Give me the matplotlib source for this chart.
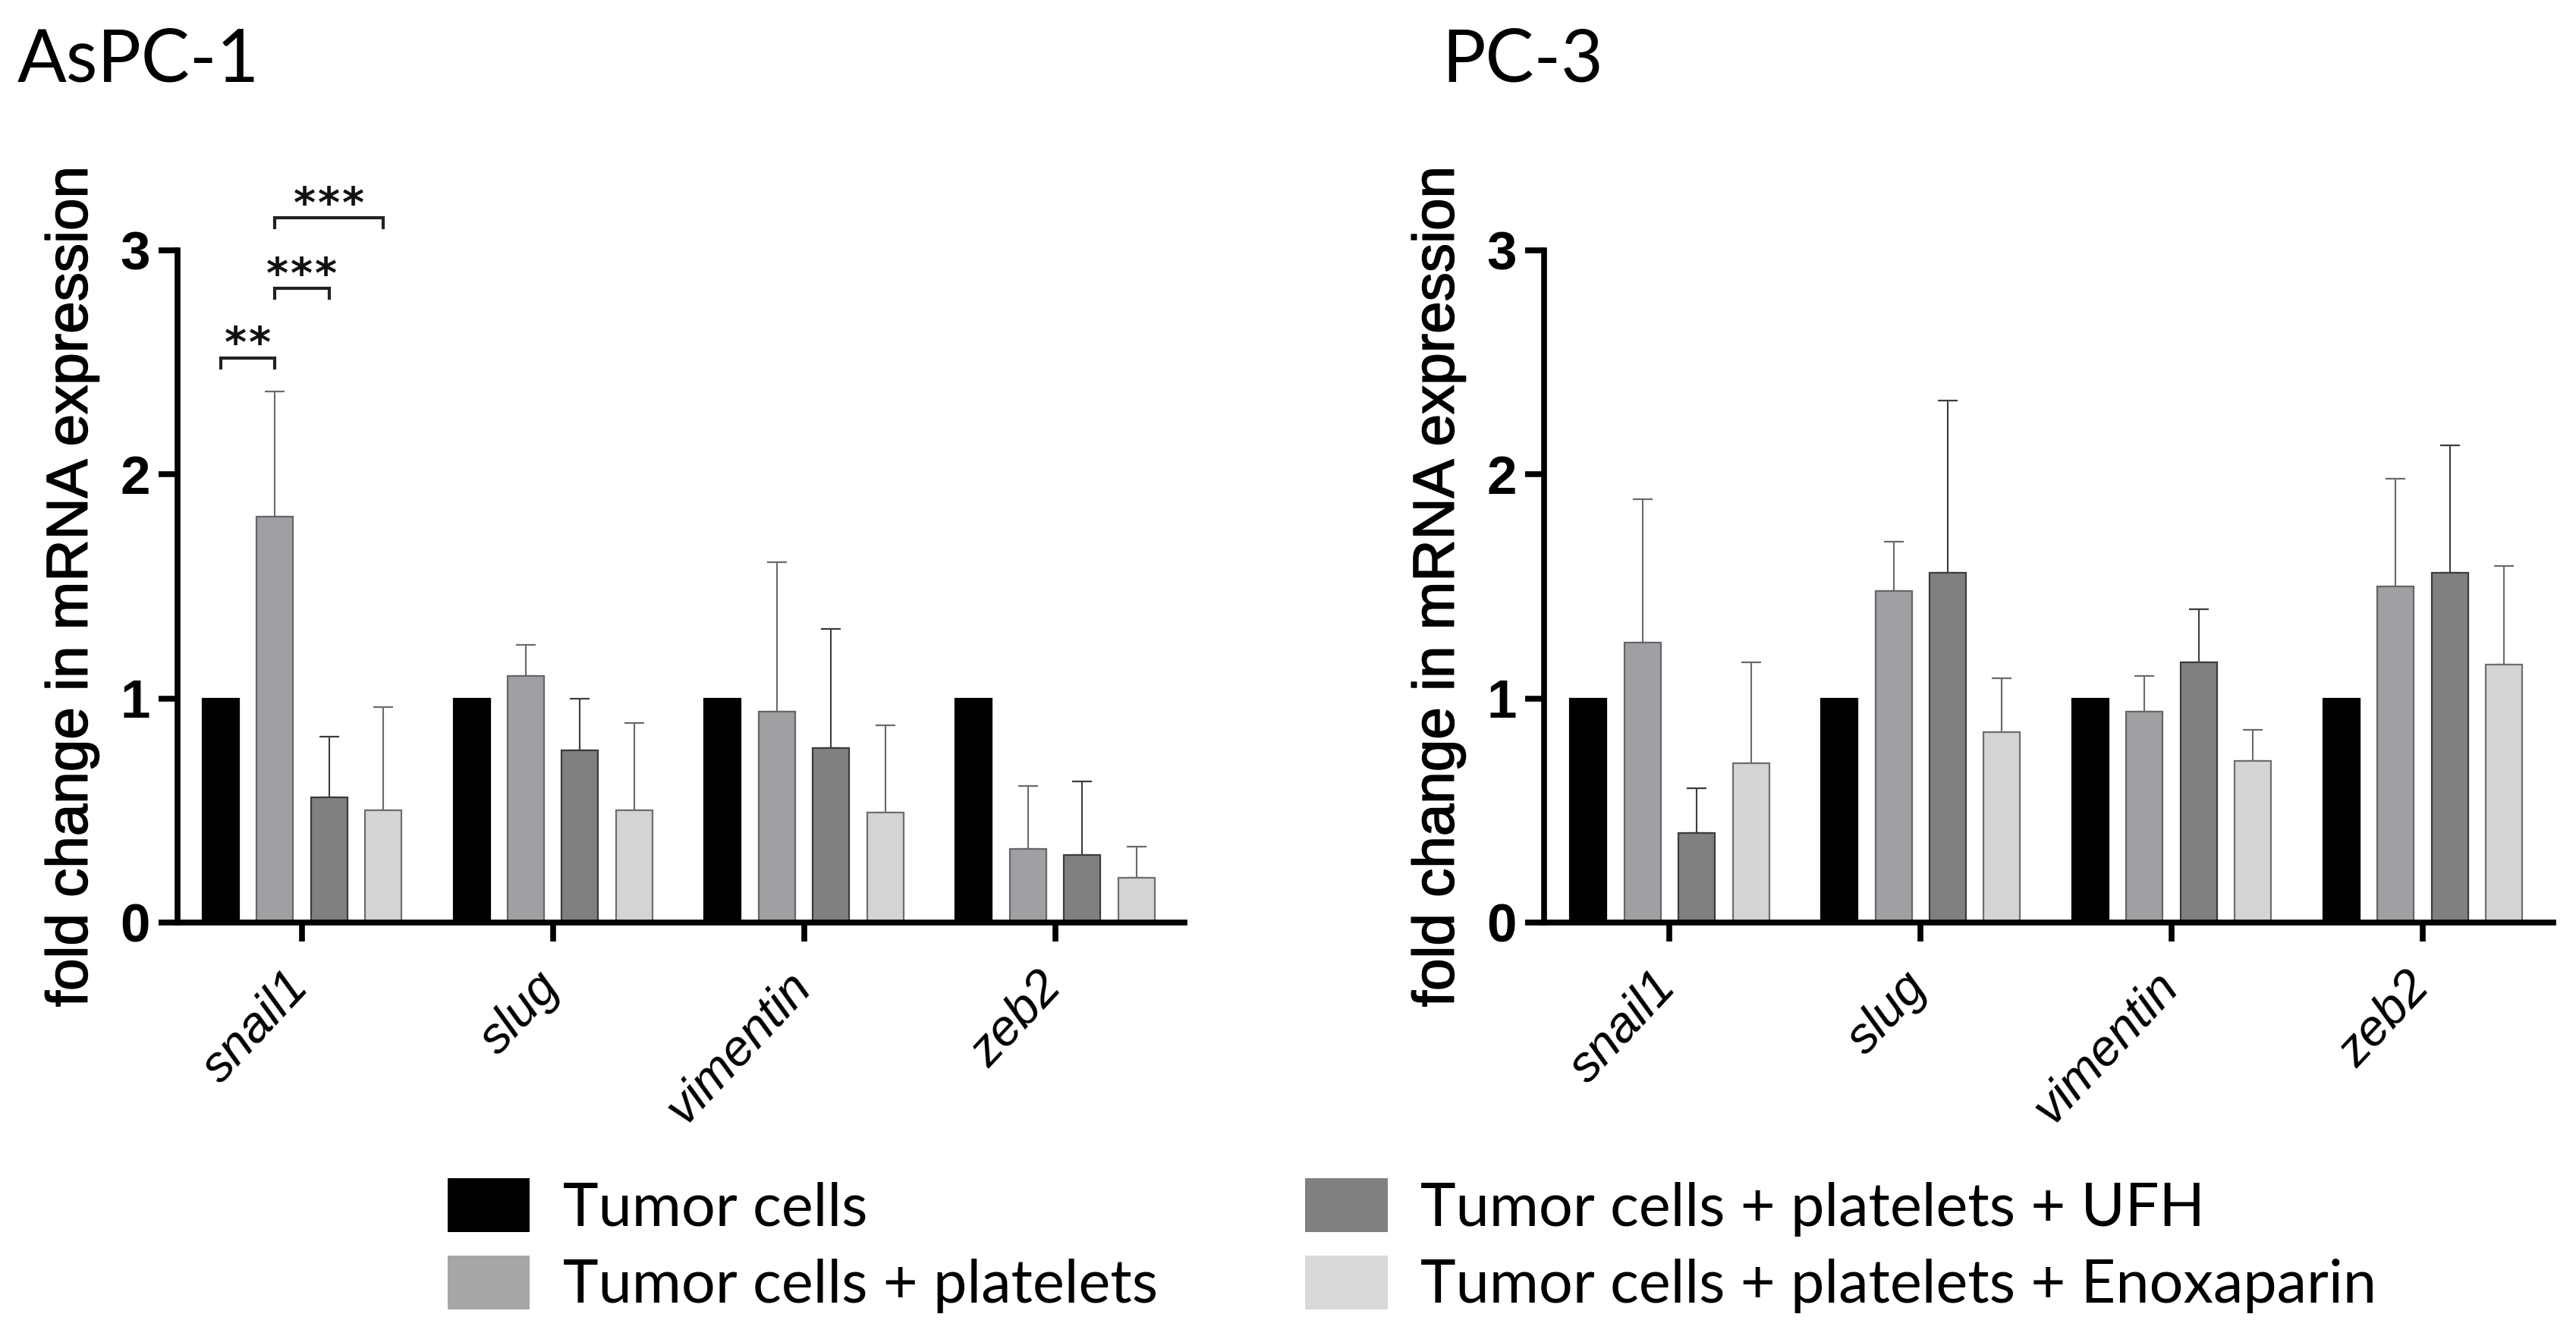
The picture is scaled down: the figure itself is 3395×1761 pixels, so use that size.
import matplotlib
matplotlib.use("Agg")
import matplotlib.pyplot as plt
import matplotlib.transforms as mtransforms
import matplotlib.patheffects as pe
from matplotlib.patches import Patch
import numpy as np

# ---------------- data ----------------
genes = ["snail1", "slug", "vimentin", "zeb2"]
series_labels = ["Tumor cells", "Tumor cells + platelets",
                 "Tumor cells + platelets + UFH", "Tumor cells + platelets + Enoxaparin"]

aspc_tumor = [1.0, 1.0, 1.0, 1.0]
aspc_plt = [1.81, 1.10, 0.94, 0.33]
aspc_plt_sd = [0.56, 0.14, 0.67, 0.28]
aspc_ufh = [0.56, 0.77, 0.78, 0.30]
aspc_ufh_sd = [0.27, 0.23, 0.53, 0.33]
aspc_enox = [0.50, 0.50, 0.49, 0.20]
aspc_enox_sd = [0.46, 0.39, 0.39, 0.14]

pc3_tumor = [1.0, 1.0, 1.0, 1.0]
pc3_plt = [1.25, 1.48, 0.94, 1.50]
pc3_plt_sd = [0.64, 0.22, 0.16, 0.48]
pc3_ufh = [0.40, 1.56, 1.16, 1.56]
pc3_ufh_sd = [0.20, 0.77, 0.24, 0.57]
pc3_enox = [0.71, 0.85, 0.72, 1.15]
pc3_enox_sd = [0.45, 0.24, 0.14, 0.44]

# significance (gene index, series a, series b, level, number of stars)
aspc_sig = [(0, 0, 1, 2.52, 2), (0, 1, 2, 2.83, 3), (0, 1, 3, 3.145, 3)]

ytick_vals = [0, 1, 2, 3]
ytick_labels = ["0", "1", "2", "3"]

# ---------------- style ----------------
fills = ["#000000", "#A0A0A4", "#808080", "#D4D4D4"]
edges = ["#000000", "#666666", "#3C3C3C", "#6E6E6E"]
err_cols = ["#000000", "#6A6A6A", "#3C3C3C", "#6A6A6A"]
legend_fills = ["#000000", "#A6A6A6", "#808080", "#D9D9D9"]

ARIAL = "Liberation Sans"
CALIBRI = "Lato"

W, H = 3395, 1761
fig = plt.figure(figsize=(W / 100, H / 100), dpi=100)

bar_w = 0.145
step = 0.216
offsets = [(-1.5 + i) * step for i in range(4)]

label_shift = mtransforms.ScaledTranslation(-24 / 100, -54 / 100, fig.dpi_scale_trans)


def panel(rect, xlim, means, sds, title, title_x, sig=None):
    ax = fig.add_axes(rect)
    x = np.arange(len(genes))
    for i, (m, s) in enumerate(zip(means, sds)):
        xs = x + offsets[i]
        ax.bar(xs, m, width=bar_w, color=fills[i], edgecolor=edges[i],
               linewidth=1.6, zorder=2)
        if s is not None:
            ax.errorbar(xs, m, yerr=[np.zeros(len(s)), s], fmt="none",
                        ecolor=err_cols[i], elinewidth=1.5, capsize=9.5,
                        capthick=1.6, zorder=1)
    ax.set_xlim(*xlim)
    ax.set_ylim(0, 3)
    ax.set_yticks(ytick_vals)
    ax.set_yticklabels(ytick_labels, fontfamily=ARIAL, fontweight="bold",
                       fontsize=51)
    ax.set_xticks(x)
    ax.set_xticklabels([])
    trans = ax.get_xaxis_transform() + label_shift
    for xi, g in zip(x, genes):
        ax.text(xi, 0, g, transform=trans, fontfamily=ARIAL,
                fontstyle="italic", fontsize=48, rotation=47, ha="right",
                va="top", rotation_mode="anchor", clip_on=False)
    for sp in ["top", "right"]:
        ax.spines[sp].set_visible(False)
    for sp in ["left", "bottom"]:
        ax.spines[sp].set_linewidth(5.5)
    ax.tick_params(axis="both", length=18, width=5.5, direction="out")
    ax.tick_params(axis="y", pad=8)
    ax.set_ylabel("fold change in mRNA expression", fontfamily=ARIAL,
                  fontsize=55, labelpad=20,
                  path_effects=[pe.withStroke(linewidth=1.2, foreground="black")])
    fig.text(title_x, 1 - 107 / H, title, fontfamily=CALIBRI, fontsize=69,
             ha="left", va="baseline")
    if sig:
        for g, a, b, lvl, n in sig:
            xa = g + offsets[a]
            xb = g + offsets[b]
            d = 0.045
            ax.plot([xa, xa, xb, xb], [lvl - d, lvl, lvl, lvl - d],
                    color="#222222", lw=3, clip_on=False, solid_joinstyle="miter")
            for k in range(n):
                dx = (k - (n - 1) / 2) * 23.0  # points
                ax.annotate("*", xy=((xa + xb) / 2, lvl), xytext=(dx, 1),
                            textcoords="offset points", ha="center",
                            va="baseline", fontfamily="DejaVu Sans",
                            fontweight="bold", fontsize=40, color="#111111",
                            annotation_clip=False)
    return ax


panel([234 / W, 1 - 1216 / H, 1327 / W, 886 / H], (-0.495, 3.515),
      [aspc_tumor, aspc_plt, aspc_ufh, aspc_enox],
      [None, aspc_plt_sd, aspc_ufh_sd, aspc_enox_sd],
      "AsPC-1", 23 / W, aspc_sig)
panel([2035 / W, 1 - 1216 / H, 1330 / W, 886 / H], (-0.5, 3.52),
      [pc3_tumor, pc3_plt, pc3_ufh, pc3_enox],
      [None, pc3_plt_sd, pc3_ufh_sd, pc3_enox_sd],
      "PC-3", 1900 / W)

handles = [Patch(facecolor=c, edgecolor="none") for c in legend_fills]
fig.legend(handles, series_labels, ncol=2, loc="upper left",
           bbox_to_anchor=(590 / W, 1 - 1553 / H), frameon=False,
           prop={"family": CALIBRI, "size": 57},
           handlelength=1.37, handleheight=1.0, handletextpad=0.55,
           labelspacing=0.32, columnspacing=2.45, borderpad=0,
           borderaxespad=0)

fig.savefig("out.png", dpi=100)
